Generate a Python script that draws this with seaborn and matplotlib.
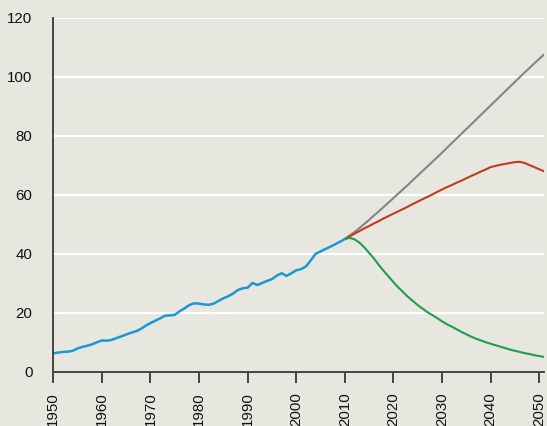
import numpy as np
import pandas as pd
import matplotlib
matplotlib.use("Agg")
import matplotlib.pyplot as plt
import seaborn as sns

# historical series 1950-2010
hist_years = list(range(1950, 2011))
hist_values = [6.2, 6.5, 6.7, 6.8, 7.1, 7.9, 8.4, 8.8, 9.3, 10.0,
               10.6, 10.5, 10.8, 11.4, 12.0, 12.6, 13.2, 13.7, 14.5, 15.6,
               16.5, 17.3, 18.1, 19.0, 19.1, 19.3, 20.5, 21.5, 22.6, 23.2,
               23.1, 22.8, 22.7, 23.1, 24.0, 24.9, 25.6, 26.5, 27.7, 28.3,
               28.5, 30.1, 29.4, 30.1, 30.8, 31.4, 32.6, 33.4, 32.5, 33.4,
               34.4, 34.8, 35.7, 37.8, 40.0, 40.8, 41.6, 42.4, 43.2, 44.1,
               45.0]

# projections 2010-2051
proj_years = list(range(2010, 2052))
gray_values = [45.0, 46.2, 47.4, 48.7, 50.1, 51.5, 53.0, 54.4, 55.9, 57.4,
               58.9, 60.4, 61.9, 63.4, 65.0, 66.5, 68.1, 69.6, 71.2, 72.7,
               74.3, 75.9, 77.5, 79.1, 80.7, 82.3, 83.9, 85.5, 87.1, 88.7,
               90.3, 91.9, 93.5, 95.1, 96.7, 98.3, 99.9, 101.5, 103.0, 104.6,
               106.1, 107.6]
red_values = [45.0, 45.9, 46.8, 47.7, 48.6, 49.4, 50.3, 51.1, 52.0, 52.8,
              53.6, 54.4, 55.2, 56.0, 56.9, 57.7, 58.5, 59.3, 60.1, 61.0,
              61.8, 62.6, 63.3, 64.1, 64.8, 65.6, 66.4, 67.1, 67.9, 68.6,
              69.4, 69.8, 70.2, 70.5, 70.8, 71.1, 71.2, 70.8, 70.1, 69.4,
              68.7, 68.0]
green_values = [45.0, 45.4, 44.9, 43.8, 42.2, 40.3, 38.4, 36.2, 34.2, 32.3,
                30.4, 28.6, 27.0, 25.4, 24.0, 22.6, 21.4, 20.2, 19.2, 18.2,
                17.1, 16.1, 15.3, 14.4, 13.5, 12.7, 11.9, 11.2, 10.6, 10.0,
                9.5, 9.0, 8.5, 8.0, 7.5, 7.1, 6.7, 6.3, 6.0, 5.6,
                5.3, 5.0]

x_ticks = list(range(1950, 2051, 10))
y_ticks = list(range(0, 121, 20))

bg = "#e7e7df"
sns.set_style("whitegrid", {
    "axes.facecolor": bg,
    "figure.facecolor": bg,
    "grid.color": "white",
    "axes.edgecolor": "#444444",
})
plt.rcParams["font.family"] = ["Liberation Sans", "DejaVu Sans"]

fig = plt.figure(figsize=(5.47, 4.26), dpi=100)
ax = fig.add_axes([0.0975, 0.1275, 0.897, 0.8303])

sns.lineplot(x=proj_years, y=gray_values, color="#858585", lw=1.5, ax=ax)
sns.lineplot(x=proj_years, y=red_values, color="#c03c1c", lw=1.5, ax=ax)
sns.lineplot(x=proj_years, y=green_values, color="#1f9e4a", lw=1.5, ax=ax)
sns.lineplot(x=hist_years, y=hist_values, color="#1a98d5", lw=1.8, ax=ax)

ax.set_xlim(1950, 2051)
ax.set_ylim(0, 120)
ax.set_xticks(x_ticks)
ax.set_yticks(y_ticks)
ax.set_xticklabels([str(t) for t in x_ticks], rotation=90)
ax.grid(axis="x", visible=False)
ax.grid(axis="y", color="white", lw=1.5)
ax.set_axisbelow(True)

for side in ["top", "right"]:
    ax.spines[side].set_visible(False)
for side in ["left", "bottom"]:
    ax.spines[side].set_linewidth(1.4)
    ax.spines[side].set_color("#444444")

ax.tick_params(axis="y", length=0, pad=15, labelsize=10.8, labelcolor="#111111")
ax.tick_params(axis="x", bottom=True, direction="out", length=8, width=1.4,
               color="#444444", pad=7, labelsize=10.8, labelcolor="#111111")
ax.set_xlabel("")
ax.set_ylabel("")

fig.savefig("out.png", dpi=100, facecolor=bg)
